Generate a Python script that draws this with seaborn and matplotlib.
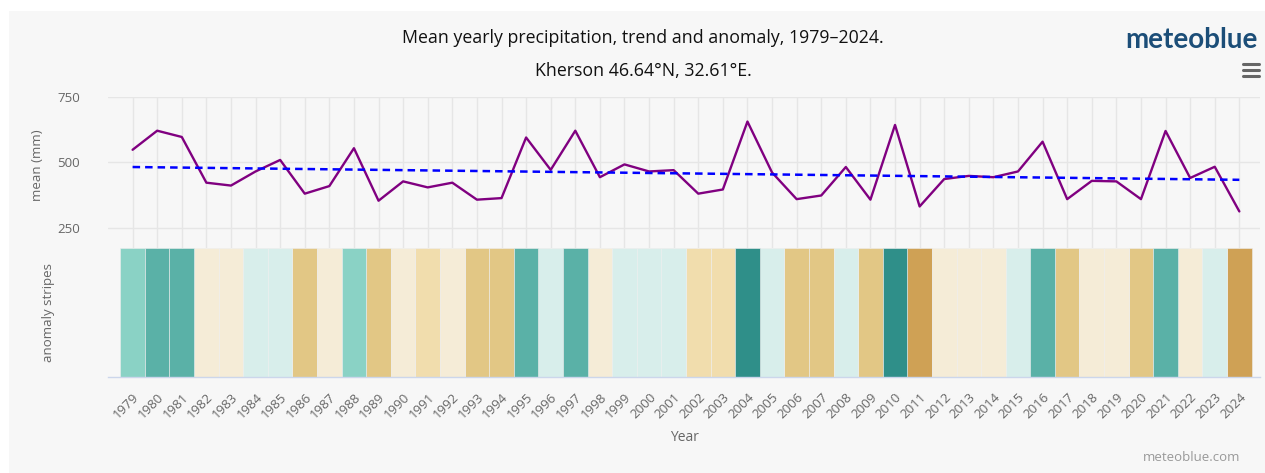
import numpy as np
import pandas as pd
import matplotlib
matplotlib.use("Agg")
import matplotlib.pyplot as plt
from matplotlib.lines import Line2D
from matplotlib.patches import Rectangle
import seaborn as sns

# ---------------- data ----------------
years = list(range(1979, 2025))
precip = [548, 621, 597, 422, 411, 465, 509, 380, 409, 554,
          353, 427, 404, 422, 357, 363, 595, 471, 621, 443,
          492, 465, 470, 380, 396, 656, 461, 359, 373, 482,
          357, 643, 331, 436, 448, 443, 465, 579, 359, 429,
          427, 359, 620, 440, 483, 312]
trend_years = [1979, 2024]
trend_values = [482, 433]
# anomaly class of each stripe (-4 driest ... +3 wettest)
stripe_level = [1, 2, 2, -1, -1, 0, 0, -3, -1, 1,
                -3, -1, -2, -1, -3, -3, 2, 0, 2, -1,
                0, 0, 0, -2, -2, 3, 0, -3, -3, 0,
                -3, 3, -4, -1, -1, -1, 0, 2, -3, -1,
                -1, -3, 2, -1, 0, -4]
level_colors = {-4: "#cfa155", -3: "#e2c785", -2: "#f1ddad", -1: "#f5ecd7",
                0: "#d8eeeb", 1: "#8ad2c5", 2: "#5ab1a7", 3: "#2f8f89"}
yticks = [250, 500, 750]

title = "Mean yearly precipitation, trend and anomaly, 1979–2024."
subtitle = "Kherson 46.64°N, 32.61°E."

df = pd.DataFrame({"year": years, "precip": precip,
                   "level": stripe_level, "one": [1] * len(years)})
tdf = pd.DataFrame({"year": trend_years, "trend": trend_values})

# ---------------- style ----------------
sns.set_theme(style="white")
plt.rcParams["font.family"] = ["Open Sans", "DejaVu Sans"]

W, H = 1265, 473
fig = plt.figure(figsize=(W / 100, H / 100), dpi=100, facecolor="white")
BG = "#f7f7f7"
fig.add_artist(Rectangle((9 / W, 0), 1, (H - 11) / H, transform=fig.transFigure,
                         facecolor=BG, edgecolor="none", zorder=-10))

left = 108 / W
width = (1260 - 108) / W
ax1 = fig.add_axes([left, 1 - 248 / H, width, (248 - 97) / H])
ax2 = fig.add_axes([left, 1 - 377 / H, width, (377 - 248) / H], sharex=ax1)

grid_c = "#e6e6e6"
axis_c = "#ccd6eb"
lab_c = "#666666"

for ax in (ax1, ax2):
    ax.set_facecolor("none")
    for s in ax.spines.values():
        s.set_visible(False)

# upper: line + trend
for yv in yticks:
    ax1.axhline(yv, color=grid_c, lw=1, zorder=0)
for yr in years:
    ax1.axvline(yr, color=grid_c, lw=1, zorder=0)

sns.lineplot(data=df, x="year", y="precip", ax=ax1, color="#800080", lw=1.7,
             zorder=3, legend=False)
sns.lineplot(data=tdf, x="year", y="trend", ax=ax1, color="#0000ff", lw=1.8,
             linestyle=(0, (3.0, 2.0)), zorder=4, legend=False)

ax1.set_ylim(172, 750)
ax1.set_xlim(1978.0, 2024.84)
ax1.set_yticks(yticks)
ax1.set_yticklabels([str(v) for v in yticks], color=lab_c, fontsize=9.5)
ax1.tick_params(axis="y", length=0, pad=20)
ax1.tick_params(axis="x", length=0, labelbottom=False)
ax1.set_xlabel("")
ax1.set_ylabel("mean (mm)", color=lab_c, fontsize=9.5)
ax1.yaxis.set_label_coords(-0.0556, 0.55)

# lower: anomaly stripes
sns.barplot(data=df, x="year", y="one", hue="level", palette=level_colors,
            native_scale=True, width=1.0, dodge=False, saturation=1,
            errorbar=None, legend=False, ax=ax2, edgecolor="#eeeeee",
            linewidth=0.4)
ax2.set_ylim(0, 1)
ax2.set_yticks([])
ax2.set_xlim(1978.0, 2024.84)
ax2.set_xticks(years)
ax2.set_xticklabels([str(y) for y in years], rotation=45, ha="right",
                    rotation_mode="anchor", color=lab_c, fontsize=9.5)
ax2.tick_params(axis="x", length=8, width=1, color=axis_c, pad=2)
ax2.spines["bottom"].set_visible(True)
ax2.spines["bottom"].set_color(axis_c)
ax2.spines["bottom"].set_linewidth(1)
ax2.set_xlabel("Year", color=lab_c, fontsize=10, labelpad=6)
ax2.set_ylabel("anomaly stripes", color=lab_c, fontsize=9.5, labelpad=38)

# titles
fig.text(643 / W, 1 - 38 / H, title, ha="center", va="center",
         fontsize=12.8, color="#111111")
fig.text(643 / W, 1 - 71 / H, subtitle, ha="center", va="center",
         fontsize=12.8, color="#111111")

# logo and menu
fig.text(1258 / W, 1 - 40 / H, "meteoblue", ha="right", va="center",
         fontsize=20, color="#1c4e78", fontweight="bold",
         family=["Lato", "DejaVu Sans"])
for yy in (64, 70, 76):
    fig.add_artist(Line2D([1243 / W, 1259 / W], [1 - yy / H, 1 - yy / H],
                          transform=fig.transFigure, color="#666666",
                          lw=2.2, solid_capstyle="round"))

fig.text(1240 / W, 1 - 457 / H, "meteoblue.com", ha="right", va="center",
         fontsize=9.5, color="#999999")

fig.savefig("out.png", dpi=100, facecolor=fig.get_facecolor())
